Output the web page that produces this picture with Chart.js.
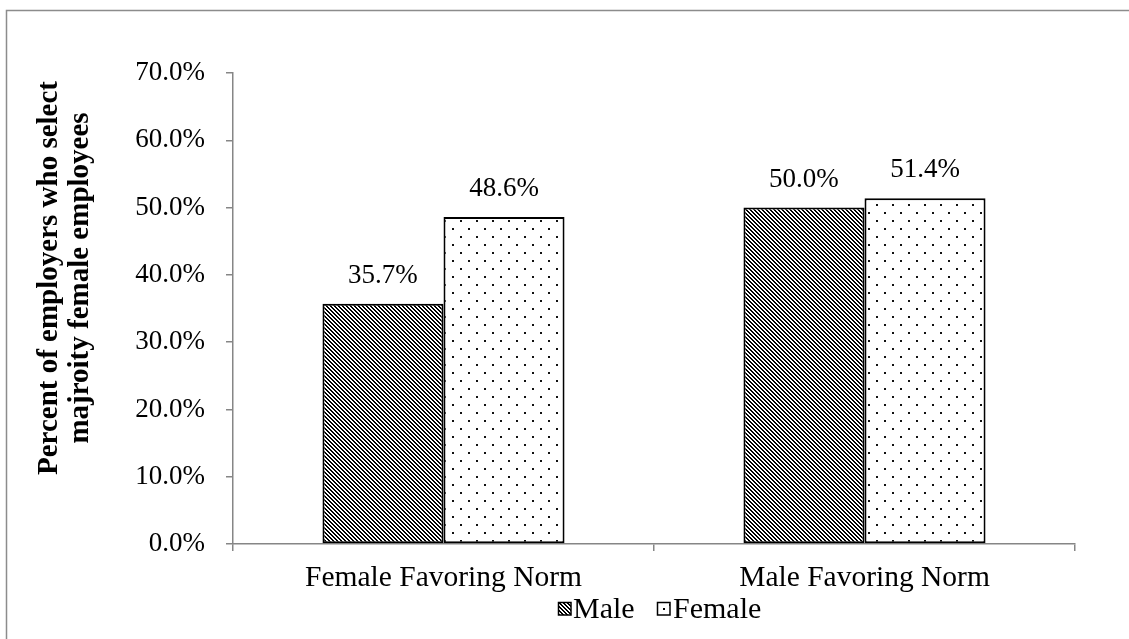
<!DOCTYPE html>
<html>
<head>
<meta charset="utf-8">
<script src="https://cdn.jsdelivr.net/npm/chart.js@4.4.1/dist/chart.umd.min.js"></script>
<style>
  html, body { margin: 0; padding: 0; background: #fff; }
  #wrap { width: 1129px; height: 639px; position: relative; }
</style>
</head>
<body>
<div id="wrap"><canvas id="c" width="1129" height="639"></canvas></div>
<script>
const categories = ["Female Favoring Norm", "Male Favoring Norm"];
const seriesNames = ["Male", "Female"];
const maleValues = [35.7, 50.0];
const femaleValues = [48.6, 51.4];
const yTitleLines = ["Percent of employers who select", "majroity female employees"];
const yMin = 0, yMax = 70, yStep = 10;

const FONT = "'Liberation Serif', 'Times New Roman', serif";
const AXIS_GRAY = '#868686';

function makeHatch() {
  const t = document.createElement('canvas');
  t.width = 8; t.height = 8;
  const ctx = t.getContext('2d');
  const img = ctx.createImageData(8, 8);
  for (let y = 0; y < 8; y++) {
    for (let x = 0; x < 8; x++) {
      const k = (((x - y) % 4) + 4) % 4;
      const v = k < 2 ? 0 : 255;
      const i = (y * 8 + x) * 4;
      img.data[i] = v; img.data[i + 1] = v; img.data[i + 2] = v; img.data[i + 3] = 255;
    }
  }
  ctx.putImageData(img, 0, 0);
  return ctx.createPattern(t, 'repeat');
}
function makeDots() {
  const t = document.createElement('canvas');
  t.width = 16; t.height = 16;
  const ctx = t.getContext('2d');
  ctx.fillStyle = '#fff';
  ctx.fillRect(0, 0, 16, 16);
  ctx.fillStyle = '#111';
  ctx.fillRect(4, 4, 2, 2);
  ctx.fillRect(12, 12, 2, 2);
  return ctx.createPattern(t, 'repeat');
}
const hatch = makeHatch();
const dots = makeDots();

const framePlugin = {
  id: 'frame',
  beforeDraw(chart) {
    const ctx = chart.ctx;
    ctx.save();
    ctx.fillStyle = '#fff';
    ctx.fillRect(0, 0, chart.width, chart.height);
    ctx.strokeStyle = '#8c8c8c';
    ctx.lineWidth = 1.5;
    ctx.strokeRect(6.5, 10.5, 3000, 3000);
    ctx.restore();
  }
};

const yTitlePlugin = {
  id: 'yTitle',
  afterDraw(chart) {
    const ctx = chart.ctx;
    ctx.save();
    ctx.fillStyle = '#000';
    ctx.font = "bold 29px " + FONT;
    ctx.textAlign = 'center';
    ctx.textBaseline = 'alphabetic';
    const baselines = [57, 88];
    yTitleLines.forEach((line, i) => {
      ctx.save();
      ctx.translate(baselines[i], 278);
      ctx.rotate(-Math.PI / 2);
      ctx.fillText(line, 0, 0);
      ctx.restore();
    });
    ctx.restore();
  }
};

const valueLabelPlugin = {
  id: 'valueLabels',
  afterDatasetsDraw(chart) {
    const ctx = chart.ctx;
    ctx.save();
    ctx.fillStyle = '#000';
    ctx.font = "27px " + FONT;
    ctx.textAlign = 'center';
    ctx.textBaseline = 'middle';
    chart.data.datasets.forEach((ds, di) => {
      const meta = chart.getDatasetMeta(di);
      meta.data.forEach((el, i) => {
        ctx.fillText(ds.data[i].toFixed(1) + '%', el.x, el.y - 28);
      });
    });
    ctx.restore();
  }
};

const legendPlugin = {
  id: 'customLegend',
  afterDraw(chart) {
    const ctx = chart.ctx;
    ctx.save();
    ctx.font = "30px " + FONT;
    ctx.textBaseline = 'alphabetic';
    ctx.textAlign = 'left';
    const boxX = [558, 657];
    const textX = [573, 673];
    chart.data.datasets.forEach((ds, i) => {
      ctx.fillStyle = ds.backgroundColor;
      ctx.fillRect(boxX[i], 602, 13, 13);
      ctx.strokeStyle = '#000';
      ctx.lineWidth = 1.5;
      ctx.strokeRect(boxX[i] + 0.5, 602.5, 12.5, 12.5);
      if (i === 1) { ctx.fillStyle = '#fff'; ctx.fillRect(boxX[i] + 2, 604, 10, 10); ctx.fillStyle = '#000'; ctx.fillRect(boxX[i] + 6, 608, 2, 2); }
      ctx.fillStyle = '#000';
      ctx.fillText(ds.label, textX[i], 618);
    });
    ctx.restore();
  }
};

new Chart(document.getElementById('c'), {
  type: 'bar',
  data: {
    labels: categories,
    datasets: [
      { label: seriesNames[0], data: maleValues, backgroundColor: hatch, borderColor: '#000', borderWidth: 2, borderSkipped: false },
      { label: seriesNames[1], data: femaleValues, backgroundColor: dots, borderColor: '#000', borderWidth: 2, borderSkipped: false }
    ]
  },
  options: {
    responsive: false,
    animation: false,
    devicePixelRatio: 1,
    layout: { padding: { left: 0, top: 73, right: 54, bottom: 0 } },
    datasets: { bar: { categoryPercentage: 0.575, barPercentage: 1.0 } },
    plugins: {
      legend: { display: false },
      tooltip: { enabled: false },
      title: { display: false }
    },
    scales: {
      x: {
        type: 'category',
        offset: true,
        grid: { display: true, offset: true, drawOnChartArea: false, drawTicks: true, tickLength: 7, color: AXIS_GRAY, lineWidth: 1.5 },
        border: { display: true, color: AXIS_GRAY, width: 1.5 },
        ticks: { color: '#000', font: { family: FONT, size: 29.5 }, padding: 10, maxRotation: 0, autoSkip: false },
        afterFit(s) { s.height = 95; }
      },
      y: {
        min: yMin, max: yMax,
        grid: { display: true, drawOnChartArea: false, drawTicks: true, tickLength: 7, color: AXIS_GRAY, lineWidth: 1.5 },
        border: { display: true, color: AXIS_GRAY, width: 1.5 },
        ticks: { stepSize: yStep, color: '#000', font: { family: FONT, size: 27 }, padding: 21,
                 callback: v => v.toFixed(1) + '%' },
        title: { display: false },
        afterFit(s) { s.width = 233; }
      }
    }
  },
  plugins: [framePlugin, valueLabelPlugin, yTitlePlugin, legendPlugin]
});
</script>
</body>
</html>
